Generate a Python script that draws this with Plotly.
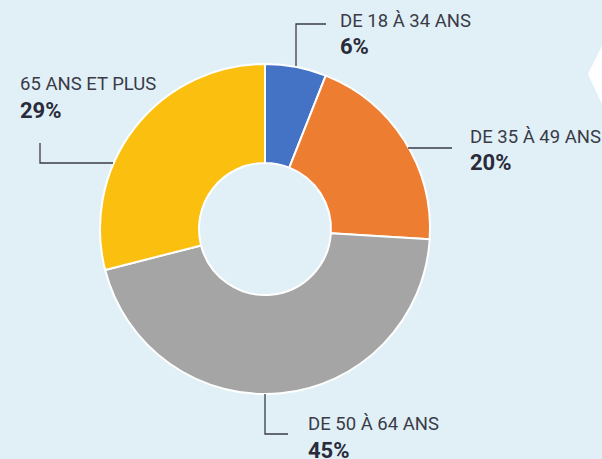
import plotly.graph_objects as go

categories = ["DE 18 À 34 ANS", "DE 35 À 49 ANS", "DE 50 À 64 ANS", "65 ANS ET PLUS"]
values = [6, 20, 45, 29]
colors = ["#4472c4", "#ed7d31", "#a5a5a5", "#fbbf10"]
pct_labels = [f"{v}%" for v in values]

W, H = 602, 459
def px(x):
    return x / W
def py(y):
    return 1 - y / H

cx, cy, R = 265, 229, 165

fig = go.Figure(go.Pie(
    labels=categories, values=values, sort=False, direction="clockwise", rotation=0,
    hole=0.4, marker=dict(colors=colors, line=dict(color="white", width=2)),
    textinfo="none", hoverinfo="label+percent",
    domain=dict(x=[px(cx - R), px(cx + R)], y=[py(cy + R), py(cy - R)]),
))

# label positions: (label x, label center y, pct center y)
label_pos = [(338, 21, 46), (468, 137, 162), (306, 424, 450), (18, 84, 110)]
# leader lines polylines
leaders = [
    [(296, 66), (296, 24), (326, 24)],
    [(408, 148), (452, 148)],
    [(265, 394), (265, 434), (288, 434)],
    [(40, 143), (40, 163), (113, 163)],
]

annotations = []
for (lx, ly, pyy), cat, pct in zip(label_pos, categories, pct_labels):
    annotations.append(dict(x=px(lx), y=py(ly), xref="paper", yref="paper", text=cat,
                            showarrow=False, xanchor="left", yanchor="middle",
                            font=dict(family="Roboto", size=18.5, color="#3a3b48")))
    annotations.append(dict(x=px(lx), y=py(pyy), xref="paper", yref="paper", text=f"<b>{pct}</b>",
                            showarrow=False, xanchor="left", yanchor="middle",
                            font=dict(family="Roboto", size=22, color="#2a2b3a")))

shapes = []
for pts in leaders:
    path = "M " + " L ".join(f"{px(x)},{py(y)}" for x, y in pts)
    shapes.append(dict(type="path", path=path, xref="paper", yref="paper",
                       line=dict(color="#3a3b48", width=1.3)))
# white chevron on the right edge
shapes.append(dict(type="path", xref="paper", yref="paper",
                   path=f"M {px(602)},{py(46)} L {px(588)},{py(74)} L {px(602)},{py(104)} Z",
                   fillcolor="white", line=dict(width=0)))

fig.update_layout(
    width=W, height=H, margin=dict(l=0, r=0, t=0, b=0),
    paper_bgcolor="#e1f0f6", plot_bgcolor="#e1f0f6",
    showlegend=False, annotations=annotations, shapes=shapes,
)
fig.write_html("out.html", config={"displayModeBar": False},
               post_script="document.body.style.margin='0';document.body.style.overflow='hidden';")
